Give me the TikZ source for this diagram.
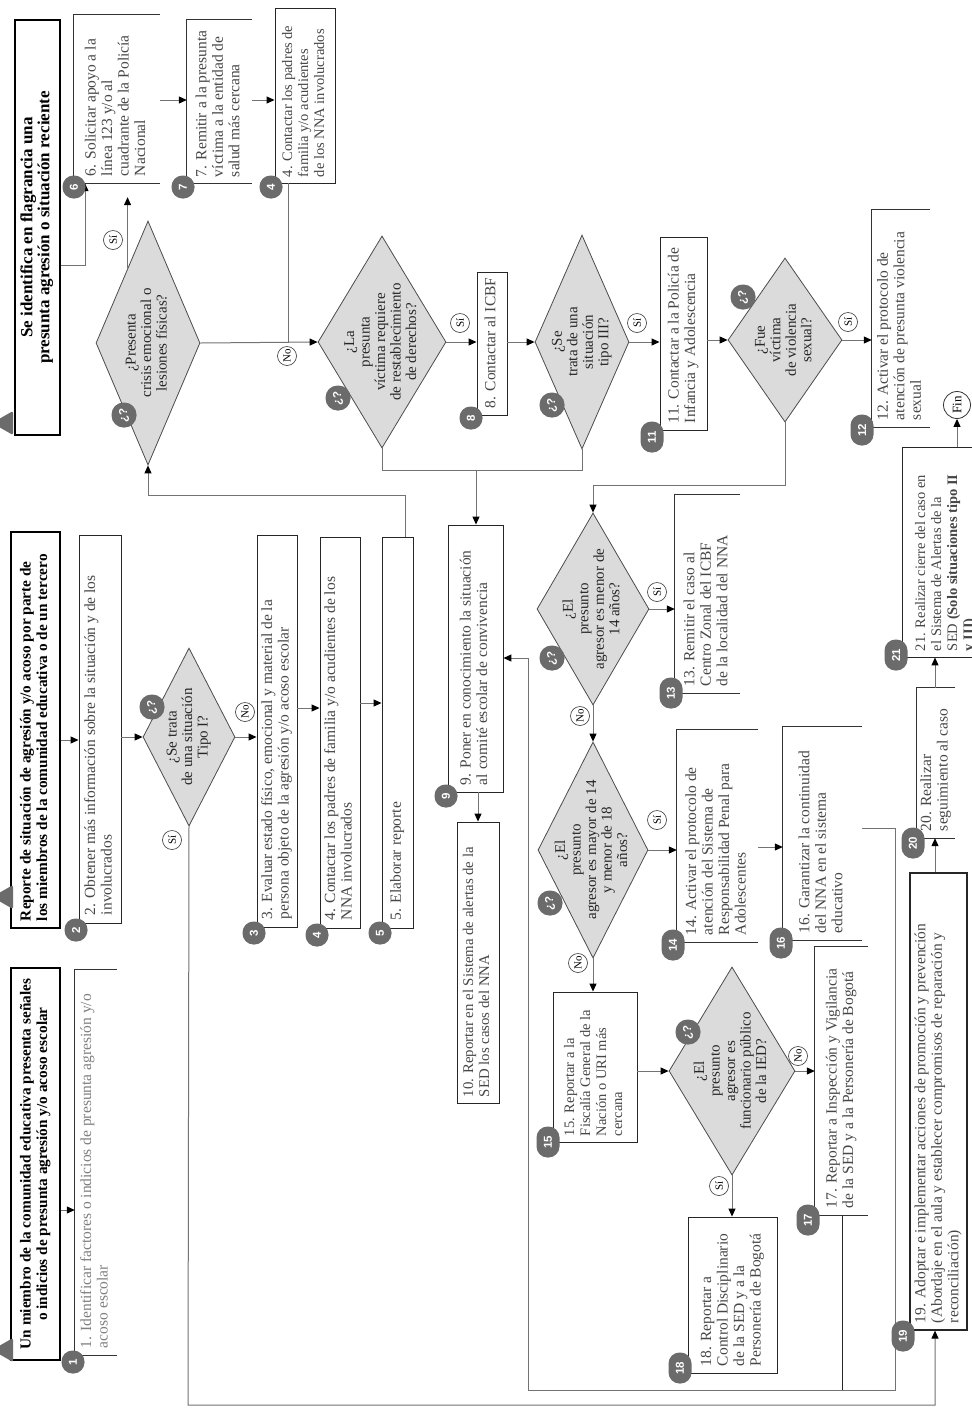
\documentclass[tikz,border=0pt]{standalone}
\usepackage{graphicx}
\usepackage{fontspec}
\setmainfont{Liberation Serif}
\setsansfont{Liberation Sans}
\usetikzlibrary{shapes.geometric,arrows.meta,calc}
\newcommand\vtl[2]{\rotatebox{90}{\parbox{#1}{\raggedright\begin{tabular}{@{}l@{}}#2\end{tabular}}}}
\newcommand\vtc[2]{\rotatebox{90}{\parbox{#1}{\centering\begin{tabular}{@{}c@{}}#2\end{tabular}}}}
\newcommand\vtd[1]{\rotatebox{90}{\begin{tabular}{@{}c@{}}#1\end{tabular}}}
\newcommand\vr[1]{\rotatebox{90}{#1}}
\newcommand\smallbox{\fontsize{14.5}{16}\selectfont}
\tikzset{
 box/.style={draw=black!85, line width=0.9pt, inner sep=0pt, fill=white, text=black!72},
 brk/.style={inner sep=0pt, text=black!72},
 brkline/.style={draw=black!80, line width=0.9pt},
 head/.style={draw=black, line width=1.1pt, inner sep=0pt, fill=white, text=black},
 dia/.style={diamond, draw=black!70, fill=black!14, line width=0.8pt, inner sep=0pt},
 dtxt/.style={inner sep=0pt, font=\fontsize{15}{15.5}\selectfont, text=black!85},
 badge/.style={fill=black!58, text=white, rounded corners=11pt, inner sep=1pt, minimum width=23pt, minimum height=23pt, font=\sffamily\bfseries\fontsize{11.5}{12}\selectfont},
 badgew/.style={badge, minimum height=31pt},
 qb/.style={badge, minimum width=25pt, minimum height=25pt, rounded corners=12pt},
 yn/.style={circle, draw=black!80, line width=0.6pt, inner sep=0pt, minimum size=19pt, fill=white, font=\fontsize{11}{12}\selectfont},
 conn/.style={draw=black!55, line width=1pt},
 connk/.style={draw=black!85, line width=1pt},
 arr/.style={conn, -{Triangle[length=8pt,width=7pt,black]}},
}
\begin{document}
\begin{tikzpicture}[x=1pt,y=-1pt, font=\fontsize{15.5}{16.5}\selectfont]
\fill[white] (0,0) rectangle (972,1409);
\useasboundingbox (0,0) rectangle (972,1409);

% ---------- start boxes ----------
\node[head, minimum width=45pt, minimum height=415pt, font=\bfseries\fontsize{17}{17}\selectfont] (A) at (37.5,227.5)
  {\vtc{395pt}{Se identifica en flagrancia una\\presunta agresión o situación reciente}};
\node[head, minimum width=49pt, minimum height=396pt, font=\bfseries\fontsize{15.3}{16.5}\selectfont] (B) at (35.5,730)
  {\vtl{382pt}{Reporte de situación de agresión y/o acoso por parte de\\los miembros de la comunidad educativa o de un tercero}};
\node[head, minimum width=49pt, minimum height=392pt, font=\bfseries\fontsize{15.3}{16.5}\selectfont] (C) at (35.5,1164)
  {\vtc{376pt}{Un miembro de la comunidad educativa presenta señales\\o indicios de presunta agresión y/o acoso escolar}};
\fill[black!58, rounded corners=2pt] (13,411) -- (13,435) -- (-8,423) -- cycle;
\fill[black!58, rounded corners=2pt] (13,885) -- (13,909) -- (-8,897) -- cycle;
\fill[black!58, rounded corners=2pt] (13,1338) -- (13,1362) -- (-8,1350) -- cycle;

% ---------- boxes ----------
\node[brk, minimum width=42pt, minimum height=385pt, text=black!50] (b1) at (96,1162.5)
  {\vtl{371pt}{1. Identificar factores o indicios de presunta agresión y/o\\acoso escolar}};
\draw[brkline] (b1.north east) -- (b1.north west) -- (b1.south west) -- (b1.south east);
\node[box, minimum width=42pt, minimum height=388pt] (b2) at (100,729)
  {\vtl{372pt}{2. Obtener más información sobre la situación y de los\\involucrados}};
\node[box, minimum width=40pt, minimum height=392pt] (b3) at (277,731)
  {\vtl{376pt}{3. Evaluar estado físico, emocional y material de la\\persona objeto de la agresión y/o acoso escolar}};
\node[box, minimum width=40pt, minimum height=391pt] (b4) at (340,732.5)
  {\vtl{375pt}{4. Contactar los padres de familia y/o acudientes de los\\NNA involucrados}};
\node[box, minimum width=31pt, minimum height=391pt] (b5) at (397.5,732.5)
  {\vtl{375pt}{5. Elaborar reporte}};
\node[brk, minimum width=86pt, minimum height=168pt] (b6) at (117,99)
  {\vtl{154pt}{6. Solicitar apoyo a la\\línea 123 y/o al\\cuadrante de la Policía\\Nacional}};
\draw[brkline] (b6.north east) -- (b6.north west) -- (b6.south west) -- (b6.south east);
\node[brk, minimum width=65pt, minimum height=163pt] (b7) at (219.5,101.5)
  {\vtl{151pt}{7. Remitir a la presunta\\víctima a la entidad de\\salud más cercana}};
\draw[brkline] (b7.north east) -- (b7.north west) -- (b7.south west) -- (b7.south east);
\node[box, minimum width=60pt, minimum height=175pt, font=\smallbox] (b4t) at (305,95.5)
  {\vtl{163pt}{4. Contactar los padres de\\familia y/o acudientes\\de los NNA involucrados}};
\node[box, minimum width=30pt, minimum height=143pt] (b8) at (492,343.5)
  {\vtl{129pt}{8. Contactar al ICBF}};
\node[box, minimum width=55pt, minimum height=267pt] (b9) at (475.5,658.5)
  {\vtl{253pt}{9. Poner en conocimiento la situación\\al comité escolar de convivencia}};
\node[box, minimum width=42pt, minimum height=281pt, font=\fontsize{14.8}{16}\selectfont] (b10) at (478,962.5)
  {\vtl{269pt}{10. Reportar en el Sistema de alertas de la\\SED los casos del NNA}};
\node[box, minimum width=47pt, minimum height=193pt] (b11) at (683.5,333.5)
  {\vtl{179pt}{11. Contactar a la Policía de\\Infancia y Adolescencia}};
\node[brk, minimum width=58pt, minimum height=217pt] (b12) at (901,318.5)
  {\vtl{203pt}{12. Activar el protocolo de\\atención de presunta violencia\\sexual}};
\draw[brkline] (b12.north east) -- (b12.north west) -- (b12.south west) -- (b12.south east);
\node[brk, minimum width=65pt, minimum height=198pt] (b13) at (707.5,594)
  {\vtl{184pt}{13. Remitir el caso al\\Centro Zonal del ICBF\\de la localidad del NNA}};
\draw[brkline] (b13.north east) -- (b13.north west) -- (b13.south west) -- (b13.south east);
\node[brk, minimum width=81pt, minimum height=212pt] (b14) at (717.5,836)
  {\vtl{198pt}{14. Activar el protocolo de\\atención del Sistema de\\Responsabilidad Penal para\\Adolescentes}};
\draw[brkline] (b14.north east) -- (b14.north west) -- (b14.south west) -- (b14.south east);
\node[box, minimum width=84pt, minimum height=150pt, font=\smallbox] (b15) at (595,1067)
  {\vtl{138pt}{15. Reportar a la\\Fiscalía General de la\\Nación o URI más\\cercana}};
\node[brk, minimum width=79pt, minimum height=213pt] (b16) at (822.5,833.5)
  {\vtl{199pt}{16. Garantizar la continuidad\\del NNA en el sistema\\educativo}};
\draw[brkline] (b16.north east) -- (b16.north west) -- (b16.south west) -- (b16.south east);
\node[brk, minimum width=53pt, minimum height=268pt] (b17) at (841.5,1081)
  {\vtl{254pt}{17. Reportar a Inspección y Vigilancia\\de la SED y a la Personería de Bogotá}};
\draw[brkline] (b17.north east) -- (b17.north west) -- (b17.south west) -- (b17.south east);
\node[box, minimum width=89pt, minimum height=156pt] (b18) at (732.5,1295)
  {\vtl{142pt}{18. Reportar a\\Control Disciplinario\\de la SED y a la\\Personería de Bogotá}};
\node[box, line width=1.2pt, minimum width=57pt, minimum height=457pt] (b19) at (938.5,1101.5)
  {\vtl{443pt}{19. Adoptar e implementar acciones de promoción y prevención\\(Abordaje en el aula y establecer compromisos de reparación y\\reconciliación)}};
\node[brk, minimum width=38pt, minimum height=150pt] (b20) at (936,763)
  {\vtl{136pt}{20. Realizar\\seguimiento al caso}};
\draw[brkline] (b20.north east) -- (b20.north west) -- (b20.south west) -- (b20.south east);
\node[box, minimum width=88pt, minimum height=210pt, font=\smallbox] (b21) at (946,552)
  {\vtl{198pt}{21. Realizar cierre del caso en\\el Sistema de Alertas de la\\SED \textbf{(Solo situaciones tipo II}\\\textbf{y III)}}};
\node[circle, draw=black!80, line width=0.8pt, minimum size=27pt, inner sep=0pt, font=\fontsize{13}{14}\selectfont] (fin) at (957,405) {\vr{Fin}};

% ---------- diamonds ----------
\node[dia, minimum width=92pt, minimum height=178pt] (d1) at (189,737) {};
\node[dtxt] (t1) at (d1) {\vtd{¿Se trata\\de una situación\\Tipo I?}};
\node[dia, minimum width=104pt, minimum height=244pt] (d2) at (148,343) {};
\node[dtxt] (t2) at (d2) {\vtd{¿Presenta\\crisis emocional o\\lesiones físicas?}};
\node[dia, minimum width=128pt, minimum height=212pt] (d3) at (382,342) {};
\node[dtxt] (t3) at (d3) {\vtd{¿La\\presunta\\víctima requiere\\de restablecimiento\\de derechos?}};
\node[dia, minimum width=94pt, minimum height=214pt] (d4) at (582,342) {};
\node[dtxt] (t4) at (d4) {\vtd{¿Se\\trata de una\\situación\\tipo III?}};
\node[dia, minimum width=114pt, minimum height=164pt] (d5) at (785,340) {};
\node[dtxt] (t5) at (d5) {\vtd{¿Fue\\víctima\\de violencia\\sexual?}};
\node[dia, minimum width=112pt, minimum height=192pt] (d6) at (593,609) {};
\node[dtxt] (t6) at (d6) {\vtd{¿El\\presunto\\agresor es menor de\\14 años?}};
\node[dia, minimum width=110pt, minimum height=216pt] (d7) at (593,850) {};
\node[dtxt] (t7) at (d7) {\vtd{¿El\\presunto\\agresor es mayor de 14\\y menor de 18\\años?}};
\node[dia, minimum width=126pt, minimum height=208pt] (d8) at (732,1071) {};
\node[dtxt] (t8) at (d8) {\vtd{¿El\\presunto\\agresor es\\funcionario público\\de la IED?}};

% ---------- connectors ----------
\draw[arr] (A.east |- 0,265) -| (b6.south -| 85,0);
\coordinate (d2s) at ($(d2.west)!0.61!(d2.north)$);
\draw[arr, shorten >=14pt] (d2s) -- (d2s |- b6.south);
\draw[arr] (b6.east |- 0,100) -- (b7.west |- 0,100);
\draw[arr] (b7.east |- 0,100) -- (b4t.west |- 0,100);
\draw[arr] (d2.east) -- (d3.west);
\draw[conn] (b4t.south -| 288,0) -- (288,342);
\draw[arr] (d3.east) -- (b8.west |- d3.east);
\draw[arr] (b8.east |- d4.west) -- (d4.west);
\draw[arr] (d4.east) -- (b11.west |- d4.east);
\draw[arr] (b11.east |- d5.west) -- (d5.west);
\draw[arr] (d5.east) -- (b12.west |- d5.east);
\draw[conn] (d3.south) -- (d3.south |- 0,470) -| (d4.south);
\draw[arr] (476,470) -- (b9.north -| 476,0);
\draw[arr] (d5.south) -- (d5.south |- 0,485) -| (d6.north);
\draw[arr] (d6.east) -- (b13.west |- d6.east);
\draw[arr] (d6.south) -- (d7.north);
\draw[arr] (d7.east) -- (b14.west |- d7.east);
\draw[arr] (d7.south) -- (b15.north -| d7.south);
\draw[arr] (b15.east |- d8.west) -- (d8.west);
\draw[arr] (d8.east) -- (b17.west |- d8.east);
\draw[arr] (d8.south) -- (b18.north -| d8.south);
\draw[arr] (b14.east |- 0,847) -- (b16.west |- 0,847);
\draw[arr] (b16.east |- 0,828) -- (895,828) -- (895,1390) -- (528,1390) -- (528,658) -- (b9.east |- 0,658);
\draw[connk] (b17.south -| 842,0) -- (842,1390);
\draw[arr] (b9.south -| 478,0) -- (b10.north -| 478,0);
\draw[arr] (b5.north -| 405,0) -- (405,495) -| (d2.south);
\draw[arr] (d1.east) -- (b3.west |- d1.east);
\draw[arr] (b3.east |- 0,708) -- (b4.west |- 0,708);
\draw[arr] (b4.east |- 0,703) -- (b5.west |- 0,703);
\draw[arr] (d1.south) -- (188,1405) -| (b19.south -| 935,0);
\draw[arr] (b19.north -| 935,0) -- (b20.south -| 935,0);
\draw[arr] (b20.north -| 935,0) -- (b21.south -| 935,0);
\draw[arr] (b21.north -| fin.south) -- (fin.south);
\draw[arr] (B.east |- 0,740) -- (b2.west |- 0,740);
\draw[arr] (C.east |- 0,1210) -- (b1.west |- 0,1210);
\draw[arr] (b2.east |- d1.west) -- (d1.west);

% ---------- yes / no labels ----------
\node[yn] (y1) at (172,840) {\vr{Sí}};
\node[yn] (n1l) at (245,712) {\vr{No}};
\node[yn] (y2) at (113,240) {\vr{Sí}};
\node[yn] (n2l) at (287,356) {\vr{No}};
\node[yn] (y3) at (460,323) {\vr{Sí}};
\node[yn] (y4) at (637,323) {\vr{Sí}};
\node[yn] (y5) at (848,322) {\vr{Sí}};
\node[yn] (y6) at (657,592) {\vr{Sí}};
\node[yn] (n6l) at (580,716) {\vr{No}};
\node[yn] (y7) at (657,820) {\vr{Sí}};
\node[yn] (n7l) at (578,963) {\vr{No}};
\node[yn] (n8l) at (798,1056) {\vr{No}};
\node[yn] (y8) at (719,1186) {\vr{Sí}};

% ---------- question badges ----------
\node[qb] (q1) at (152,707) {\vr{¿?}};
\node[qb] (q2) at (124,415) {\vr{¿?}};
\node[qb] (q3) at (338,398) {\vr{¿?}};
\node[qb] (q4) at (552,405) {\vr{¿?}};
\node[qb] (q5) at (743,297) {\vr{¿?}};
\node[qb] (q6) at (552,658) {\vr{¿?}};
\node[qb] (q7) at (550,903) {\vr{¿?}};
\node[qb] (q8) at (688,1032) {\vr{¿?}};

% ---------- number badges ----------
\node[badge] (k1) at (73,1362) {\vr{1}};
\node[badge] (k2) at (76,930) {\vr{2}};
\node[badge] (k3) at (254,933) {\vr{3}};
\node[badge] (k4) at (317,935) {\vr{4}};
\node[badge] (k5) at (380,933) {\vr{5}};
\node[badge] (k6) at (74,187) {\vr{6}};
\node[badge] (k7) at (183,187) {\vr{7}};
\node[badge] (k4t) at (271,187) {\vr{4}};
\node[badge] (k8) at (471,418) {\vr{8}};
\node[badge] (k9) at (446,796) {\vr{9}};
\node[badgew] (k11) at (652,437) {\vr{11}};
\node[badgew] (k12) at (862,430) {\vr{12}};
\node[badgew] (k13) at (671,693) {\vr{13}};
\node[badgew] (k14) at (673,945) {\vr{14}};
\node[badgew] (k15) at (548,1142) {\vr{15}};
\node[badgew] (k16) at (781,943) {\vr{16}};
\node[badgew] (k17) at (808,1220) {\vr{17}};
\node[badgew] (k18) at (680,1368) {\vr{18}};
\node[badgew] (k19) at (903,1336) {\vr{19}};
\node[badgew] (k20) at (913,843) {\vr{20}};
\node[badgew] (k21) at (896,655) {\vr{21}};
\end{tikzpicture}
\end{document}
